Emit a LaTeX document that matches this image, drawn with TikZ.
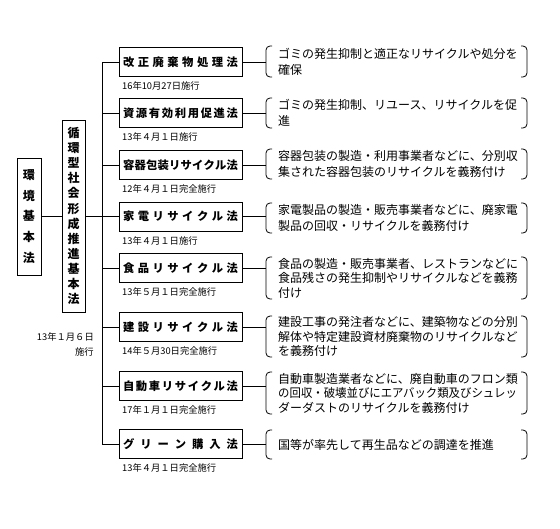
\documentclass[tikz,border=0pt]{standalone}
\usepackage{fontspec}
\usepackage{graphicx}
\setmainfont{Noto Sans CJK JP}
\usetikzlibrary{calc}
\tikzset{
  frame/.style={draw, line width=0.9pt, inner sep=0pt},
  lawbox/.style={frame, minimum width=123pt, minimum height=29pt, font=\fontsize{11.3}{14}\selectfont\bfseries},
  datelbl/.style={anchor=west, inner sep=0pt, font=\fontsize{9.3}{10}\selectfont},
  desc/.style={anchor=west, inner sep=0pt, align=left, font=\fontsize{12}{16}\selectfont},
  descc/.style={anchor=west, inner sep=0pt, align=left, font=\fontsize{12}{14.5}\selectfont},
  conn/.style={line width=0.8pt},
  brk/.style={line width=0.8pt, rounded corners=4pt}
}
\newcommand{\bracketpair}[2]{%
  \draw[brk] (272,#1) -- (266,#1) -- (266,#2) -- (272,#2);
  \draw[brk] (521,#1) -- (527,#1) -- (527,#2) -- (521,#2);
}
\newcommand{\spc}[1]{\makebox[115pt][s]{#1}}
\begin{document}
\begin{tikzpicture}[x=1pt,y=-1pt]
\useasboundingbox[fill=white] (0,0) rectangle (560,528);

% left boxes
\node[frame, minimum width=24pt, minimum height=117pt, align=center,
  font=\fontsize{12}{20.8}\selectfont\bfseries] (K) at (29,216.5) {環\\境\\基\\本\\法};
\node[frame, minimum width=23pt, minimum height=192pt, align=center,
  font=\fontsize{12}{15.1}\selectfont\bfseries] (J) at (73.5,216) {循\\環\\型\\社\\会\\形\\成\\推\\進\\基\\本\\法};
\node[anchor=east, inner sep=0pt, align=right, font=\fontsize{9.3}{15}\selectfont] (Jd) at (94,344.5) {13年１月６日\\施行};

% law boxes
\node[lawbox] (L1) at (180.5,62) {\spc{改\hfill 正\hfill 廃\hfill 棄\hfill 物\hfill 処\hfill 理\hfill 法}};
\node[lawbox] (L2) at (180.5,113) {\spc{資\hfill 源\hfill 有\hfill 効\hfill 利\hfill 用\hfill 促\hfill 進\hfill 法}};
\node[lawbox] (L3) at (180.5,165) {\spc{容\hfill 器\hfill 包\hfill 装\hfill リ\hfill サ\hfill イ\hfill ク\hfill ル\hfill 法}};
\node[lawbox] (L4) at (180.5,216.5) {\spc{家\hfill 電\hfill リ\hfill サ\hfill イ\hfill ク\hfill ル\hfill 法}};
\node[lawbox] (L5) at (180.5,268) {\spc{食\hfill 品\hfill リ\hfill サ\hfill イ\hfill ク\hfill ル\hfill 法}};
\node[lawbox] (L6) at (180.5,327) {\spc{建\hfill 設\hfill リ\hfill サ\hfill イ\hfill ク\hfill ル\hfill 法}};
\node[lawbox] (L7) at (180.5,386) {\spc{自\hfill 動\hfill 車\hfill リ\hfill サ\hfill イ\hfill ク\hfill ル\hfill 法}};
\node[lawbox] (L8) at (180.5,444) {\spc{グ\hfill リ\hfill ー\hfill ン\hfill 購\hfill 入\hfill 法}};

% dates
\node[datelbl] (d1) at (122,86) {16年10月27日施行};
\node[datelbl] (d2) at (122,137) {13年４月１日施行};
\node[datelbl] (d3) at (122,189) {12年４月１日完全施行};
\node[datelbl] (d4) at (122,240.5) {13年４月１日施行};
\node[datelbl] (d5) at (122,292) {13年５月１日完全施行};
\node[datelbl] (d6) at (122,351) {14年５月30日完全施行};
\node[datelbl] (d7) at (122,410) {17年１月１日完全施行};
\node[datelbl] (d8) at (122,468) {13年４月１日完全施行};

% trunk
\coordinate (T) at (102,216.5);
\draw[conn] (K.east |- T) -- (J.west |- T);
\draw[conn] (J.east |- T) -- (T);
\draw[conn] (L1.west -| T) -- (L8.west -| T);
\foreach \i in {1,...,8}{\draw[conn] (L\i.west -| T) -- (L\i.west);}

% brackets
\bracketpair{46}{77}
\bracketpair{98}{128}
\bracketpair{149}{179}
\bracketpair{203}{233}
\bracketpair{257}{299}
\bracketpair{316}{357}
\bracketpair{372}{414}
\bracketpair{430}{459}
\foreach \i/\y in {1/62,2/113,3/165,4/216.5,5/268,6/327,7/386,8/444}{
  \coordinate (b\i) at (266,\y);
  \draw[conn] (L\i.east) -- (b\i);
}

% descriptions
\node[desc] (D1) at (278,61.5) {ゴミの発生抑制と適正なリサイクルや処分を\\確保};
\node[desc] (D2) at (278,113) {ゴミの発生抑制、リユース、リサイクルを促\\進};
\node[desc] (D3) at (278,164) {容器包装の製造・利用事業者などに、分別収\\集された容器包装のリサイクルを義務付け};
\node[desc] (D4) at (278,218) {家電製品の製造・販売事業者などに、廃家電\\製品の回収・リサイクルを義務付け};
\node[descc] (D5) at (278,278) {食品の製造・販売事業者、レストランなどに\\食品残さの発生抑制やリサイクルなどを義務\\付け};
\node[descc] (D6) at (278,336.5) {建設工事の発注者などに、建築物などの分別\\解体や特定建設資材廃棄物のリサイクルなど\\を義務付け};
\node[descc] (D7) at (278,393) {自動車製造業者などに、廃自動車のフロン類\\\scalebox{0.95}[1]{の回収・破壊並びにエアバック類及びシュレッ}\\ダーダストのリサイクルを義務付け};
\node[desc] (D8) at (278,444.5) {国等が率先して再生品などの調達を推進};
\end{tikzpicture}
\end{document}
